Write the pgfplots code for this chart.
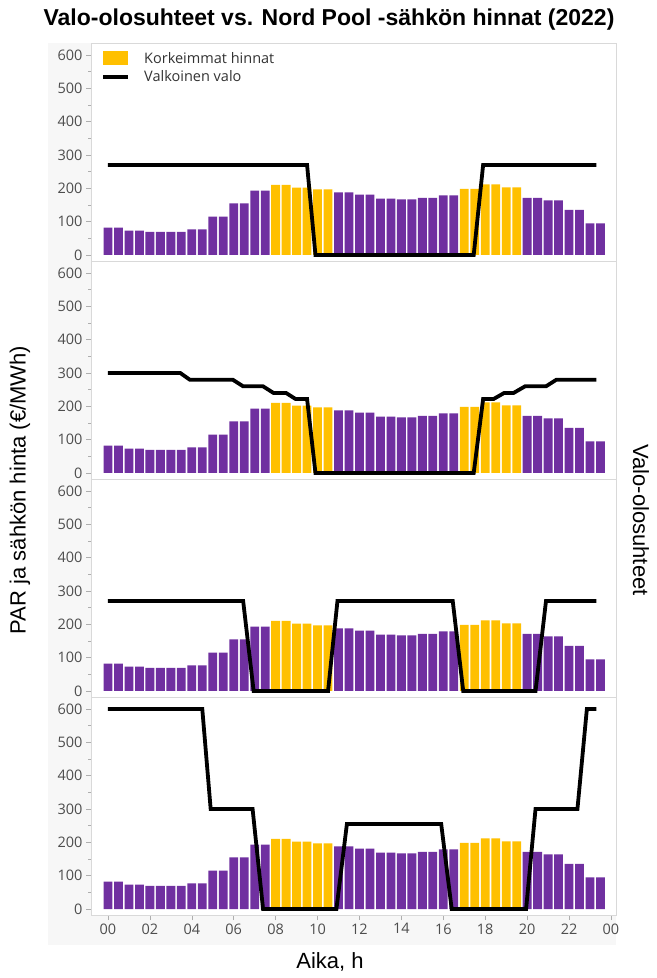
\documentclass[border=0pt]{standalone}
\usepackage{pgfplots}
\pgfplotsset{compat=1.18}
\usepackage{pgfplotstable}
\usepackage{fontspec}
\setmainfont{Liberation Sans}
\newfontfamily\tickfont{Open Sans}

\definecolor{vpurple}{HTML}{7030A0}
\definecolor{vyellow}{HTML}{FFC000}
\definecolor{bggray}{HTML}{F7F7F7}
\definecolor{framegray}{HTML}{D9D9D9}
\definecolor{tickgray}{HTML}{4D4D4D}

% hourly price shown per half hour, p = purple, y = highest prices
\pgfplotstableread{
t p y
0 82 nan
0.5 82 nan
1 73 nan
1.5 73 nan
2 69 nan
2.5 69 nan
3 69 nan
3.5 69 nan
4 77 nan
4.5 77 nan
5 115 nan
5.5 115 nan
6 155 nan
6.5 155 nan
7 193 nan
7.5 193 nan
8 nan 210
8.5 nan 210
9 nan 202
9.5 nan 202
10 nan 197
10.5 nan 197
11 188 nan
11.5 188 nan
12 181 nan
12.5 181 nan
13 169 nan
13.5 169 nan
14 167 nan
14.5 167 nan
15 171 nan
15.5 171 nan
16 179 nan
16.5 179 nan
17 nan 198
17.5 nan 198
18 nan 212
18.5 nan 212
19 nan 203
19.5 nan 203
20 171 nan
20.5 171 nan
21 164 nan
21.5 164 nan
22 135 nan
22.5 135 nan
23 95 nan
23.5 95 nan
}\prices

\pgfplotstableread{
t v
0 270
9.5 270
9.9 0
17.45 0
17.9 270
23.3 270
}\lightA

\pgfplotstableread{
t v
0 300
3.45 300
3.9 280
5.95 280
6.45 260
7.4 260
7.9 240
8.5 240
8.95 222
9.5 222
9.9 0
17.45 0
17.9 222
18.4 222
18.9 240
19.35 240
19.9 260
20.9 260
21.4 280
23.3 280
}\lightB

\pgfplotstableread{
t v
0 270
6.45 270
6.95 0
10.5 0
10.95 270
16.45 270
16.95 0
20.4 0
20.9 270
23.3 270
}\lightC

\pgfplotstableread{
t v
0 600
4.5 600
4.9 300
6.9 300
7.4 0
10.9 0
11.4 255
15.9 255
16.4 0
19.95 0
20.4 300
22.4 300
22.85 600
23.3 600
}\lightD

\pgfplotsset{
  panel/.style={
    width=525bp, height=218bp, scale only axis, anchor=south west,
    xmin=-0.81, xmax=24.24, ymin=-18, ymax=636,
    axis background/.style={fill=white},
    axis line style={framegray},
    tick pos=left, tick align=outside,
    ytick={0,100,...,600}, minor ytick={50,150,...,550},
    major tick length=5bp, minor tick length=3bp,
    every tick/.style={framegray!80!black, line width=0.6bp},
    yticklabel style={font=\tickfont\fontsize{14.5bp}{16bp}\selectfont, text=tickgray},
    xticklabel style={font=\tickfont\fontsize{14.5bp}{16bp}\selectfont, text=tickgray},
    /pgf/number format/assume math mode=true,
    xtick=\empty,
  },
  pbar/.style={ybar, bar shift=0pt, bar width=0.42, draw=none},
  light/.style={black, line width=3.8bp, line join=miter, line cap=butt},
}

\begin{document}
\begin{tikzpicture}
\path[use as bounding box] (0,0) rectangle (657bp,978bp);
\fill[bggray] (48bp,33bp) rectangle (616bp,935bp);

\begin{axis}[panel, at={(91bp,717bp)},
  legend style={at={(axis description cs:0,1)}, anchor=north west,
    xshift=10bp, yshift=-7bp, draw=none, fill=none, inner sep=0pt,
    font=\tickfont\fontsize{14.5bp}{17bp}\selectfont, text=black!80,
    row sep=2bp, /tikz/every odd column/.append style={column sep=12bp}},
  legend cell align=left]
\addplot[pbar, fill=vpurple, forget plot] table[x=t, y=p] {\prices};
\addplot[pbar, fill=vyellow,
  legend image code/.code={\fill[vyellow] (0bp,-7bp) rectangle (25bp,7bp);}]
  table[x=t, y=y] {\prices};
\addlegendentry{Korkeimmat hinnat}
\addplot[light,
  legend image code/.code={\draw[black, line width=4bp] (0bp,0bp) -- (25bp,0bp);}]
  table[x=t, y=v] {\lightA};
\addlegendentry{Valkoinen valo}
\end{axis}

\begin{axis}[panel, at={(91bp,499bp)}]
\addplot[pbar, fill=vpurple] table[x=t, y=p] {\prices};
\addplot[pbar, fill=vyellow] table[x=t, y=y] {\prices};
\addplot[light] table[x=t, y=v] {\lightB};
\end{axis}

\begin{axis}[panel, at={(91bp,281bp)}]
\addplot[pbar, fill=vpurple] table[x=t, y=p] {\prices};
\addplot[pbar, fill=vyellow] table[x=t, y=y] {\prices};
\addplot[light] table[x=t, y=v] {\lightC};
\end{axis}

\begin{axis}[panel, at={(91bp,63bp)},
  xtick={0,2,...,24},
  xticklabels={00,02,04,06,08,10,12,14,16,18,20,22,00}]
\addplot[pbar, fill=vpurple] table[x=t, y=p] {\prices};
\addplot[pbar, fill=vyellow] table[x=t, y=y] {\prices};
\addplot[light] table[x=t, y=v] {\lightD};
\end{axis}

\node[font=\bfseries\fontsize{23bp}{27bp}\selectfont] at (329bp,958bp)
  {Valo-olosuhteet vs. Nord Pool -sähkön hinnat (2022)};
\node[rotate=90, font=\fontsize{22bp}{26bp}\selectfont] at (20bp,488bp)
  {PAR ja sähkön hinta (€/MWh)};
\node[rotate=-90, font=\fontsize{22bp}{26bp}\selectfont] at (641bp,458bp)
  {Valo-olosuhteet};
\node[font=\fontsize{22bp}{26bp}\selectfont] at (330bp,16bp) {Aika, h};
\end{tikzpicture}
\end{document}
